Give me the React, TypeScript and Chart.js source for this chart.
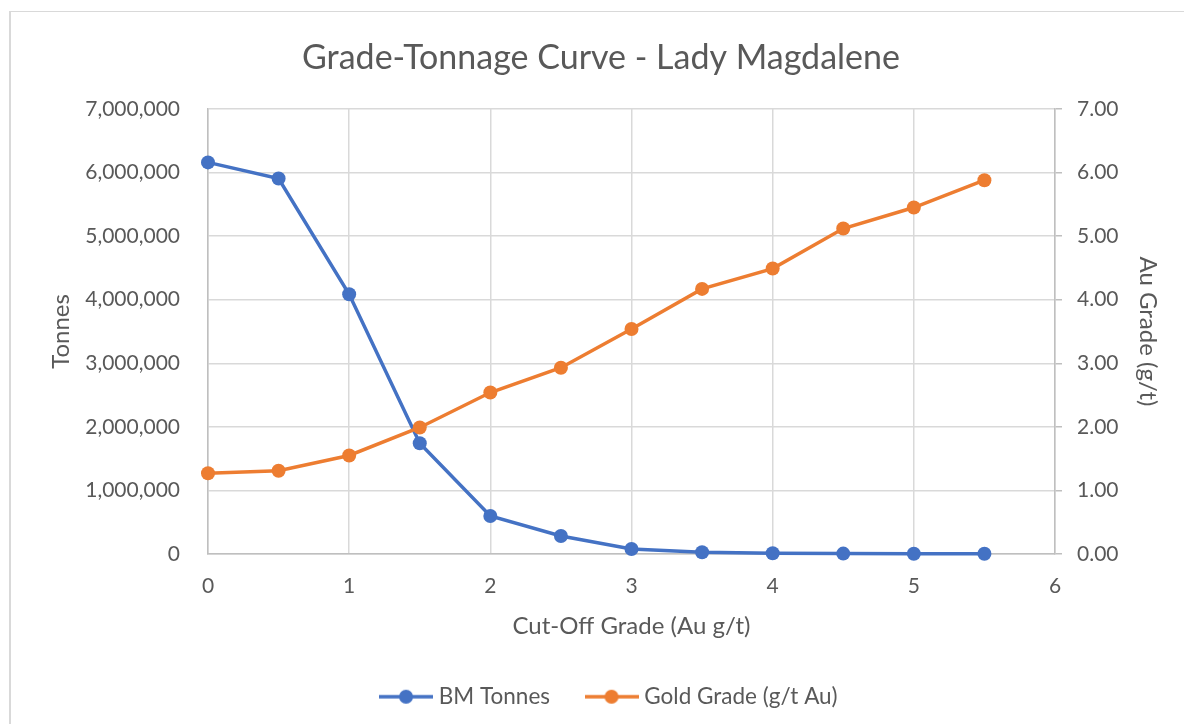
import React, { useEffect, useRef } from "react";
import { Chart, registerables } from "chart.js";

Chart.register(...registerables);

const cutOffGrades = [0, 0.5, 1, 1.5, 2, 2.5, 3, 3.5, 4, 4.5, 5, 5.5];
const bmTonnes = [6160000, 5907000, 4085000, 1742000, 597000, 283000, 79000, 28000, 12000, 6000, 4000, 3000];
const goldGrade = [1.27, 1.31, 1.55, 1.99, 2.54, 2.93, 3.54, 4.17, 4.49, 5.12, 5.45, 5.88];
const seriesNames = ["BM Tonnes", "Gold Grade (g/t Au)"];
const seriesColors = ["#4472C4", "#ED7D31"];

const FONT = "Lato";
const TEXT = "#595959";
const W = 1184;
const H = 724;
const PLOT_BOTTOM = 554;
const PAD_BOTTOM = 6;
const LEGEND_SHIFT = 10;

function legendImage(color: string): HTMLCanvasElement {
  const c = document.createElement("canvas");
  c.width = 54;
  c.height = 16;
  const g = c.getContext("2d")!;
  g.strokeStyle = color;
  g.lineWidth = 3.5;
  g.beginPath();
  g.moveTo(0, 8);
  g.lineTo(54, 8);
  g.stroke();
  g.fillStyle = color;
  g.beginPath();
  g.arc(27, 8, 7, 0, Math.PI * 2);
  g.fill();
  return c;
}

const legendShift = {
  id: "legendShift",
  afterLayout(chart: any) {
    if (chart.legend) {
      chart.legend.left += LEGEND_SHIFT;
      chart.legend.right += LEGEND_SHIFT;
    }
  },
};

export default function App() {
  const ref = useRef<HTMLCanvasElement | null>(null);
  useEffect(() => {
    if (!ref.current) return;
    const imgs = seriesColors.map(legendImage);
    const chart = new Chart(ref.current, {
      type: "line",
      plugins: [legendShift],
      data: {
        datasets: [
          {
            label: seriesNames[0],
            data: cutOffGrades.map((x, i) => ({ x, y: bmTonnes[i] })),
            borderColor: seriesColors[0],
            backgroundColor: seriesColors[0],
            borderWidth: 3.5,
            pointRadius: 7,
            pointHoverRadius: 7,
            pointBorderWidth: 0,
            yAxisID: "y",
            clip: false as any,
            order: 1,
          },
          {
            label: seriesNames[1],
            data: cutOffGrades.map((x, i) => ({ x, y: goldGrade[i] })),
            borderColor: seriesColors[1],
            backgroundColor: seriesColors[1],
            borderWidth: 3.5,
            pointRadius: 7,
            pointHoverRadius: 7,
            pointBorderWidth: 0,
            yAxisID: "y1",
            clip: false as any,
            order: 0,
          },
        ],
      },
      options: {
        responsive: false,
        animation: false,
        devicePixelRatio: 1,
        layout: { padding: { left: 18, right: 0, top: 0, bottom: PAD_BOTTOM } },
        plugins: {
          title: {
            display: true,
            text: "Grade-Tonnage Curve - Lady Magdalene",
            color: TEXT,
            font: { family: FONT, size: 34, weight: "normal" },
            padding: { top: 37.5, bottom: 30.7 },
          },
          legend: {
            position: "bottom",
            labels: {
              usePointStyle: true,
              pointStyleWidth: 43,
              padding: 40,
              color: TEXT,
              font: { family: FONT, size: 22.5 },
              sort: (a: any, b: any) => a.datasetIndex - b.datasetIndex,
              generateLabels: (ch: any) => {
                const items = Chart.defaults.plugins.legend.labels.generateLabels(ch);
                return items.map((it: any) => ({ ...it, pointStyle: imgs[it.datasetIndex], fontColor: TEXT }));
              },
            },
          },
          tooltip: { enabled: false },
        },
        scales: {
          x: {
            type: "linear",
            min: 0,
            max: 6,
            ticks: {
              stepSize: 1,
              color: TEXT,
              font: { family: FONT, size: 21 },
              padding: 20,
            },
            grid: { color: "#d9d9d9", lineWidth: 1.5, drawTicks: false },
            border: { color: "#bfbfbf", width: 1.5 },
            title: {
              display: true,
              text: "Cut-Off Grade (Au g/t)",
              color: TEXT,
              font: { family: FONT, size: 24 },
              padding: { top: 0, bottom: 4.6 },
            },
            afterFit: (s: any) => {
              const lg = s.chart.legend ? s.chart.legend.height : 0;
              s.height = H - PAD_BOTTOM - lg - PLOT_BOTTOM;
            },
          },
          y: {
            type: "linear",
            position: "left",
            min: 0,
            max: 7000000,
            ticks: {
              stepSize: 1000000,
              color: TEXT,
              font: { family: FONT, size: 21 },
              padding: 28,
              callback: (v: any) => Number(v).toLocaleString("en-US"),
            },
            grid: { color: "#d9d9d9", lineWidth: 1.5, drawTicks: false },
            border: { color: "#bfbfbf", width: 1.5 },
            title: {
              display: true,
              text: "Tonnes",
              color: TEXT,
              font: { family: FONT, size: 24 },
              padding: { top: 28.8, bottom: 0 },
            },
            afterFit: (s: any) => {
              s.width = 208 - 18;
            },
          },
          y1: {
            type: "linear",
            position: "right",
            min: 0,
            max: 7,
            ticks: {
              stepSize: 1,
              color: TEXT,
              font: { family: FONT, size: 21 },
              padding: 15,
              callback: (v: any) => Number(v).toFixed(2),
            },
            grid: { color: "#bfbfbf", lineWidth: 1.5, drawOnChartArea: false, drawTicks: true, tickLength: 7 },
            border: { color: "#bfbfbf", width: 1.5 },
            title: {
              display: true,
              text: "Au Grade (g/t)",
              color: TEXT,
              font: { family: FONT, size: 24 },
              padding: { top: 21.8, bottom: 0 },
            },
            afterFit: (s: any) => {
              s.width = W - 1055;
            },
          },
        },
      },
    });
    return () => chart.destroy();
  }, []);

  return (
    <div style={{ position: "fixed", left: 0, top: 0, width: W, height: H, overflow: "hidden", background: "#fff" }}>
      <div
        style={{
          position: "absolute",
          left: 9,
          top: 11,
          width: 1300,
          height: 900,
          borderLeft: "2px solid #d9d9d9",
          borderTop: "1px solid #d9d9d9",
        }}
      />
      <canvas ref={ref} width={W} height={H} style={{ position: "absolute", left: 0, top: 0, width: W, height: H }} />
    </div>
  );
}
